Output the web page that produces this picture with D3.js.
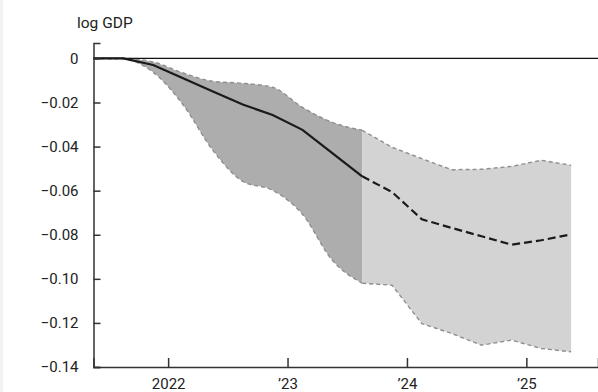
<!DOCTYPE html>
<html>
<head>
<meta charset="utf-8">
<script src="https://cdn.jsdelivr.net/npm/d3@7"></script>
<style>
  body { margin: 0; background: #fff; }
  svg { display: block; font-family: Roboto, "Noto Sans", sans-serif; }
</style>
</head>
<body>
<div id="chart"></div>
<script>
// quarterly points, plotted at quarter midpoints (2021Q2 .. 2025Q2)
const quarters = d3.range(17).map(i => 2021.375 + i * 0.25);
const forecastStart = 9; // 2023Q3: start of the projection

const central = [0, 0, -0.003, -0.009, -0.015, -0.0209, -0.0257, -0.0324, -0.043, -0.0535,
                 -0.0606, -0.073, -0.0769, -0.0807, -0.0845, -0.0825, -0.0798];
const upper = [0, 0, -0.0016, -0.0066, -0.0104, -0.0113, -0.0131, -0.0222, -0.029, -0.0326,
               -0.0403, -0.0455, -0.0505, -0.0503, -0.049, -0.0462, -0.0485];
const lower = [0, -0.0003, -0.0063, -0.021, -0.0417, -0.0558, -0.0598, -0.0707, -0.0916, -0.102,
               -0.1029, -0.1203, -0.1248, -0.1301, -0.1278, -0.1316, -0.1331];

const yTicks = [0, -0.02, -0.04, -0.06, -0.08, -0.10, -0.12, -0.14];
const xTicks = [2022, 2023, 2024, 2025];
const xTickLabels = ["2022", "\u201923", "\u201924", "\u201925"];

const width = 598, height = 392;

const svg = d3.select("#chart").append("svg")
    .attr("width", width)
    .attr("height", height);

// faint strip at the left edge of the original image
svg.append("rect").attr("x", 0).attr("y", 0).attr("width", 3).attr("height", height).attr("fill", "#f2f2f2");

const x = d3.scaleLinear().domain([2021.375, 2025.6]).range([93.5, 598]);
const y = d3.scaleLinear().domain([-0.14, 0.007]).range([367, 43]);

const rows = quarters.map((q, i) => ({ q, c: central[i], lo: lower[i], hi: upper[i], i }));
const hist = rows.filter(d => d.i <= forecastStart);
const fcst = rows.filter(d => d.i >= forecastStart);

const areaHist = d3.area().x(d => x(d.q)).y0(d => y(d.lo)).y1(d => y(d.hi)).curve(d3.curveMonotoneX);
const areaFcst = d3.area().x(d => x(d.q)).y0(d => y(d.lo)).y1(d => y(d.hi));

svg.append("path").datum(hist).attr("d", areaHist).attr("fill", "#adadad");
svg.append("path").datum(fcst).attr("d", areaFcst).attr("fill", "#d3d3d3");

// band edges
const edge = (key, curve) => d3.line().x(d => x(d.q)).y(d => y(d[key])).curve(curve);
[["hi", hist, d3.curveMonotoneX], ["lo", hist, d3.curveMonotoneX], ["hi", fcst, d3.curveLinear], ["lo", fcst, d3.curveLinear]]
  .forEach(([k, data, curve]) => {
    svg.append("path").datum(data)
      .attr("d", edge(k, curve))
      .attr("fill", "none")
      .attr("stroke", "#8f8f8f")
      .attr("stroke-width", 1.4)
      .attr("stroke-dasharray", "4,3");
  });

// zero line
svg.append("line")
    .attr("x1", x.range()[0]).attr("x2", width)
    .attr("y1", y(0)).attr("y2", y(0))
    .attr("stroke", "#111").attr("stroke-width", 1.3);

// central projection
const centralLine = d3.line().x(d => x(d.q)).y(d => y(d.c));
svg.append("path").datum(hist)
    .attr("d", centralLine)
    .attr("fill", "none").attr("stroke", "#1a1a1a").attr("stroke-width", 2.2);
svg.append("path").datum(fcst)
    .attr("d", centralLine)
    .attr("fill", "none").attr("stroke", "#1a1a1a").attr("stroke-width", 2.2)
    .attr("stroke-dasharray", "8,4");

// y axis
const yAxis = svg.append("g")
    .attr("transform", `translate(${x.range()[0]},0)`)
    .call(d3.axisLeft(y).tickValues(yTicks).tickSize(-7).tickPadding(15)
        .tickFormat(d => d === 0 ? "0" : d3.format(".2f")(d).replace("-", "\u2212")));
yAxis.select(".domain").attr("stroke", "#333").attr("stroke-width", 1.5);
yAxis.selectAll(".tick line").attr("stroke", "#333").attr("stroke-width", 1.5);
yAxis.selectAll("text").attr("fill", "#222").attr("font-size", 15).attr("font-family", "Roboto, sans-serif");

// x axis
const xAxis = svg.append("g")
    .attr("transform", `translate(0,${y(-0.14)})`)
    .call(d3.axisBottom(x).tickValues(xTicks).tickSize(-9).tickPadding(11)
        .tickFormat((d, i) => xTickLabels[i]));
xAxis.select(".domain").attr("stroke", "#333").attr("stroke-width", 1.5);
xAxis.selectAll(".tick line").attr("stroke", "#333").attr("stroke-width", 1.5);
xAxis.selectAll("text").attr("fill", "#222").attr("font-size", 15).attr("font-family", "Roboto, sans-serif");

// axis title
svg.append("text")
    .attr("x", 77).attr("y", 28)
    .attr("fill", "#222")
    .attr("font-size", 15.5)
    .text("log GDP");
</script>
</body>
</html>
